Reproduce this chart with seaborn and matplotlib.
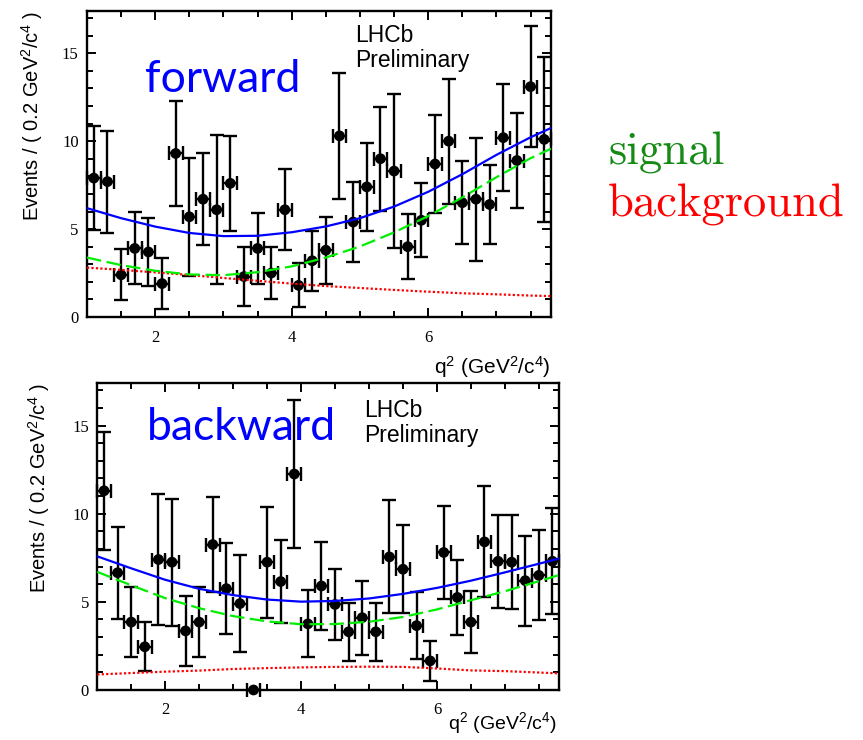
import matplotlib
matplotlib.use("Agg")
import matplotlib.pyplot as plt
import seaborn as sns
import pandas as pd
from matplotlib.ticker import MultipleLocator

# ---- data -------------------------------------------------------------
# bin centres of the q^2 histogram (bin width 0.2 GeV^2/c^4)
q2_bins = [1.1, 1.3, 1.5, 1.7, 1.9, 2.1, 2.3, 2.5, 2.7, 2.9, 3.1, 3.3,
           3.5, 3.7, 3.9, 4.1, 4.3, 4.5, 4.7, 4.9, 5.1, 5.3, 5.5, 5.7,
           5.9, 6.1, 6.3, 6.5, 6.7, 6.9, 7.1, 7.3, 7.5, 7.7]
bin_halfwidth = 0.1

fwd_events = [7.9, 7.7, 2.4, 3.9, 3.7, 1.9, 9.3, 5.7, 6.7, 6.1, 7.6, 2.3,
              3.9, 2.5, 6.1, 1.8, 3.2, 3.8, 10.3, 5.4, 7.4, 9.0, 8.3, 4.0,
              5.5, 8.7, 10.0, 6.5, 6.7, 6.4, 10.2, 8.9, 13.1, 10.1]
fwd_err = [2.95, 2.9, 1.45, 2.05, 1.95, 1.45, 3.0, 3.35, 2.6, 4.25, 2.7, 1.7,
           2.0, 1.5, 2.3, 1.25, 1.7, 1.9, 3.6, 2.25, 2.5, 2.95, 4.4, 1.85,
           2.1, 2.8, 3.55, 2.35, 3.5, 2.25, 3.05, 2.7, 3.45, 4.7]

bwd_events = [11.3, 6.65, 3.85, 2.45, 7.4, 7.25, 3.35, 3.85, 8.25, 5.75, 4.9, 0.0,
              7.25, 6.15, 12.25, 3.75, 5.9, 4.85, 3.3, 4.1, 3.3, 7.55, 6.85, 3.65,
              1.65, 7.8, 5.25, 3.85, 8.4, 7.3, 7.25, 6.2, 6.5, 7.3]
bwd_err = [3.35, 2.6, 2.0, 1.4, 3.7, 3.6, 2.0, 2.0, 2.7, 2.6, 2.75, 0.0,
           3.15, 2.35, 4.2, 1.9, 2.5, 2.0, 1.65, 2.1, 1.65, 3.2, 2.5, 1.9,
           1.15, 2.65, 2.15, 1.75, 3.15, 2.65, 2.65, 2.55, 2.55, 3.0]

# fit projections evaluated along q^2
q2_curve = [1.0, 1.5, 2.0, 2.5, 3.0, 3.5, 4.0, 4.5, 5.0, 5.5, 6.0, 6.5, 7.0, 7.5, 7.8]
fwd_total = [6.19, 5.62, 5.14, 4.78, 4.60, 4.62, 4.82, 5.15, 5.62, 6.28, 7.12, 8.12, 9.22, 10.22, 10.75]
fwd_signal = [3.38, 2.95, 2.63, 2.42, 2.38, 2.55, 2.88, 3.38, 4.01, 4.81, 5.74, 6.80, 7.95, 9.03, 9.57]
fwd_bkg = [2.81, 2.68, 2.54, 2.39, 2.22, 2.06, 1.90, 1.76, 1.65, 1.54, 1.44, 1.35, 1.29, 1.22, 1.19]

bwd_total = [7.58, 6.90, 6.25, 5.74, 5.38, 5.13, 5.01, 5.05, 5.19, 5.45, 5.79, 6.20, 6.67, 7.16, 7.46]
bwd_signal = [6.70, 5.94, 5.21, 4.64, 4.19, 3.89, 3.73, 3.74, 3.87, 4.14, 4.57, 5.09, 5.60, 6.17, 6.52]
bwd_bkg = [0.88, 0.96, 1.04, 1.10, 1.19, 1.24, 1.28, 1.31, 1.32, 1.31, 1.22, 1.11, 1.07, 0.99, 0.94]

panels = [
    ("forward", fwd_events, fwd_err, fwd_total, fwd_signal, fwd_bkg),
    ("backward", bwd_events, bwd_err, bwd_total, bwd_signal, bwd_bkg),
]

# ---- style ------------------------------------------------------------
sns.set_theme(style="ticks")
plt.rcParams["font.family"] = ["Liberation Sans", "DejaVu Sans"]
plt.rcParams["mathtext.fontset"] = "custom"
plt.rcParams["mathtext.rm"] = "Liberation Sans"
plt.rcParams["mathtext.it"] = "Liberation Sans:italic"
plt.rcParams["mathtext.bf"] = "Liberation Sans:bold"
for key in ("text.color", "axes.labelcolor", "xtick.color", "ytick.color",
            "axes.edgecolor"):
    plt.rcParams[key] = "black"

fig = plt.figure(figsize=(8.63, 7.40), dpi=100)
axes_rects = [
    [0.1008, 0.5716, 0.5377, 0.4135],
    [0.1127, 0.0676, 0.5353, 0.4145],
]
xlabel_pos = [(1.0, -0.185), (0.995, -0.128)]
xlabel_size = [15, 14]
ylabel_x = [-0.118, -0.126]
title_pos = [(0.124, 0.735), (0.107, 0.815)]
lhcb_pos = [(0.578, 0.957), (0.578, 0.950)]

for i, (name, ev, err, tot, sig, bkg) in enumerate(panels):
    ax = fig.add_axes(axes_rects[i])
    df = pd.DataFrame({"q2": q2_bins, "events": ev})
    curves = pd.DataFrame({"q2": q2_curve, "total": tot, "signal": sig, "bkg": bkg})

    eb = ax.errorbar(q2_bins, ev, yerr=err, xerr=bin_halfwidth, fmt="none",
                     ecolor="black", elinewidth=1.7, capsize=5, capthick=1.7,
                     zorder=3)
    for art in eb.get_children():
        art.set_clip_on(False)
    sns.scatterplot(data=df, x="q2", y="events", ax=ax, color="black", s=60,
                    edgecolor="none", zorder=4, clip_on=False, legend=False)

    sns.lineplot(data=curves, x="q2", y="bkg", ax=ax, color="#ff0000", lw=1.6,
                 linestyle=(0, (1, 1)), estimator=None, sort=False, zorder=5)
    sns.lineplot(data=curves, x="q2", y="signal", ax=ax, color="#00ee00", lw=1.6,
                 linestyle=(0, (6.5, 2.5)), estimator=None, sort=False, zorder=5)
    sns.lineplot(data=curves, x="q2", y="total", ax=ax, color="#0000ff", lw=1.6,
                 estimator=None, sort=False, zorder=6)

    ax.set_xlim(1.0, 7.8)
    ax.set_ylim(0, 17.4)
    ax.xaxis.set_major_locator(MultipleLocator(2))
    ax.xaxis.set_minor_locator(MultipleLocator(0.5))
    ax.yaxis.set_major_locator(MultipleLocator(5))
    ax.yaxis.set_minor_locator(MultipleLocator(1))
    ax.tick_params(which="both", direction="in", top=True, right=True,
                   width=1.4, colors="black", labelsize=12)
    ax.tick_params(which="major", length=6.5)
    ax.tick_params(which="minor", length=4)
    ax.tick_params(axis="x", pad=9)
    ax.tick_params(axis="y", pad=6)
    for lab in ax.get_xticklabels() + ax.get_yticklabels():
        lab.set_fontfamily("Liberation Serif")
    for sp in ax.spines.values():
        sp.set_linewidth(1.7)
        sp.set_color("black")

    ax.set_xlabel("")
    ax.set_ylabel("")
    ax.text(*xlabel_pos[i], r"q$^{2}$ (GeV$^{2}$/c$^{4}$)", transform=ax.transAxes,
            ha="right", va="baseline", fontsize=xlabel_size[i])
    ax.text(ylabel_x[i], 1.0, r"Events / ( 0.2 GeV$^{2}$/c$^{4}$ )",
            transform=ax.transAxes, rotation=90, ha="center", va="top", fontsize=14.5)

    ax.text(*title_pos[i], name, transform=ax.transAxes, color="#0000ff",
            fontfamily="Lato", fontsize=32, ha="left", va="baseline")
    ax.text(*lhcb_pos[i], "LHCb\nPreliminary", transform=ax.transAxes,
            fontsize=16.5, ha="left", va="top", linespacing=1.12)

fig.text(608 / 863, 1 - 164 / 740, "signal", color="#158a15", fontfamily="cmr10",
         fontsize=33.5, ha="left", va="baseline")
fig.text(608 / 863, 1 - 217 / 740, "background", color="#ff0000", fontfamily="cmr10",
         fontsize=33.5, ha="left", va="baseline")

fig.savefig("out.png", dpi=100)
